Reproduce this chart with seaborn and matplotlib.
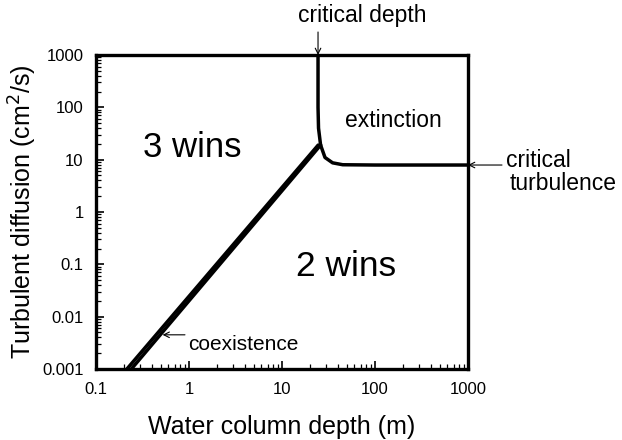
import matplotlib
matplotlib.use("Agg")
import matplotlib.pyplot as plt
import matplotlib.ticker as mticker
import pandas as pd
import seaborn as sns

# boundary curves (depth in m, diffusion in cm2/s)
coex_upper_x = [0.215, 24.5]
coex_upper_y = [0.001, 19.0]
coex_lower_x = [0.24, 26.0]
coex_lower_y = [0.001, 19.0]
crit_depth_x = [24.4, 24.4, 24.7, 26.0]
crit_depth_y = [1000.0, 100.0, 40.0, 19.0]
crit_turb_x = [26.0, 29.0, 35.0, 45.0, 100.0, 1000.0]
crit_turb_y = [19.0, 11.0, 8.7, 8.0, 7.9, 7.9]

x_ticks = [0.1, 1, 10, 100, 1000]
y_ticks = [0.001, 0.01, 0.1, 1, 10, 100, 1000]
tick_labels_x = ["0.1", "1", "10", "100", "1000"]
tick_labels_y = ["0.001", "0.01", "0.1", "1", "10", "100", "1000"]

sns.set_style("ticks", {"xtick.direction": "in", "ytick.direction": "in"})
plt.rcParams["font.family"] = ["Liberation Sans", "DejaVu Sans"]
plt.rcParams["text.color"] = "black"
plt.rcParams["axes.labelcolor"] = "black"
plt.rcParams["xtick.color"] = "black"
plt.rcParams["ytick.color"] = "black"

fig = plt.figure(figsize=(6.22, 4.40), dpi=100)
ax = fig.add_axes([96 / 622, 71 / 440, 372 / 622, 314 / 440])

curves = [
    (coex_upper_x, coex_upper_y),
    (coex_lower_x, coex_lower_y),
    (crit_depth_x, crit_depth_y),
    (crit_turb_x, crit_turb_y),
]
for xs, ys in curves:
    df = pd.DataFrame({"x": xs, "y": ys})
    sns.lineplot(data=df, x="x", y="y", sort=False, estimator=None,
                 color="black", linewidth=2.5, ax=ax)

ax.set_xscale("log")
ax.set_yscale("log")
ax.set_xlim(0.1, 1000)
ax.set_ylim(0.001, 1000)

ax.xaxis.set_major_locator(mticker.FixedLocator(x_ticks))
ax.yaxis.set_major_locator(mticker.FixedLocator(y_ticks))
ax.xaxis.set_major_formatter(mticker.FixedFormatter(tick_labels_x))
ax.yaxis.set_major_formatter(mticker.FixedFormatter(tick_labels_y))
ax.xaxis.set_minor_locator(mticker.LogLocator(base=10, subs=range(2, 10),
                                              numticks=50))
ax.yaxis.set_minor_locator(mticker.LogLocator(base=10, subs=range(2, 10),
                                              numticks=50))
ax.xaxis.set_minor_formatter(mticker.NullFormatter())
ax.yaxis.set_minor_formatter(mticker.NullFormatter())
ax.tick_params(which="major", direction="in", length=6, width=1.2,
               labelsize=12, pad=9, bottom=True, left=True,
               top=False, right=False, zorder=5)
ax.tick_params(which="minor", direction="in", length=3.5, width=0.9,
               bottom=True, left=True, top=False, right=False, zorder=5)

for sp in ax.spines.values():
    sp.set_visible(True)
    sp.set_linewidth(2.4)
    sp.set_color("black")

ax.set_xlabel("Water column depth (m)", fontsize=18, labelpad=13)
ax.set_ylabel("Turbulent diffusion (cm$^2$/s)", fontsize=18, labelpad=2)

ax.text(0.32, 17, "3 wins", fontsize=25, ha="left", va="center")
ax.text(14, 0.089, "2 wins", fontsize=25.5, ha="left", va="center")
ax.text(47, 57, "extinction", fontsize=16.5, ha="left", va="center")

arrow = dict(arrowstyle="->", color="black", lw=0.8, shrinkA=0, shrinkB=0)
ax.annotate("", xy=(24.4, 1000), xytext=(24.4, 2750), arrowprops=arrow,
            annotation_clip=False)
ax.text(14.9, 4300, "critical depth", fontsize=16.5, ha="left",
        va="baseline", clip_on=False)

ax.annotate("", xy=(1000, 7.9), xytext=(2320, 7.9), arrowprops=arrow,
            annotation_clip=False)
ax.text(2570, 7.2, "critical", fontsize=16.5, ha="left", va="baseline",
        clip_on=False)
ax.text(2800, 2.63, "turbulence", fontsize=16.5, ha="left", va="baseline",
        clip_on=False)

ax.annotate("", xy=(0.52, 0.0045), xytext=(0.905, 0.0045), arrowprops=arrow)
ax.text(0.975, 0.0023, "coexistence", fontsize=15, ha="left", va="baseline")

fig.savefig("out.png", dpi=100)
